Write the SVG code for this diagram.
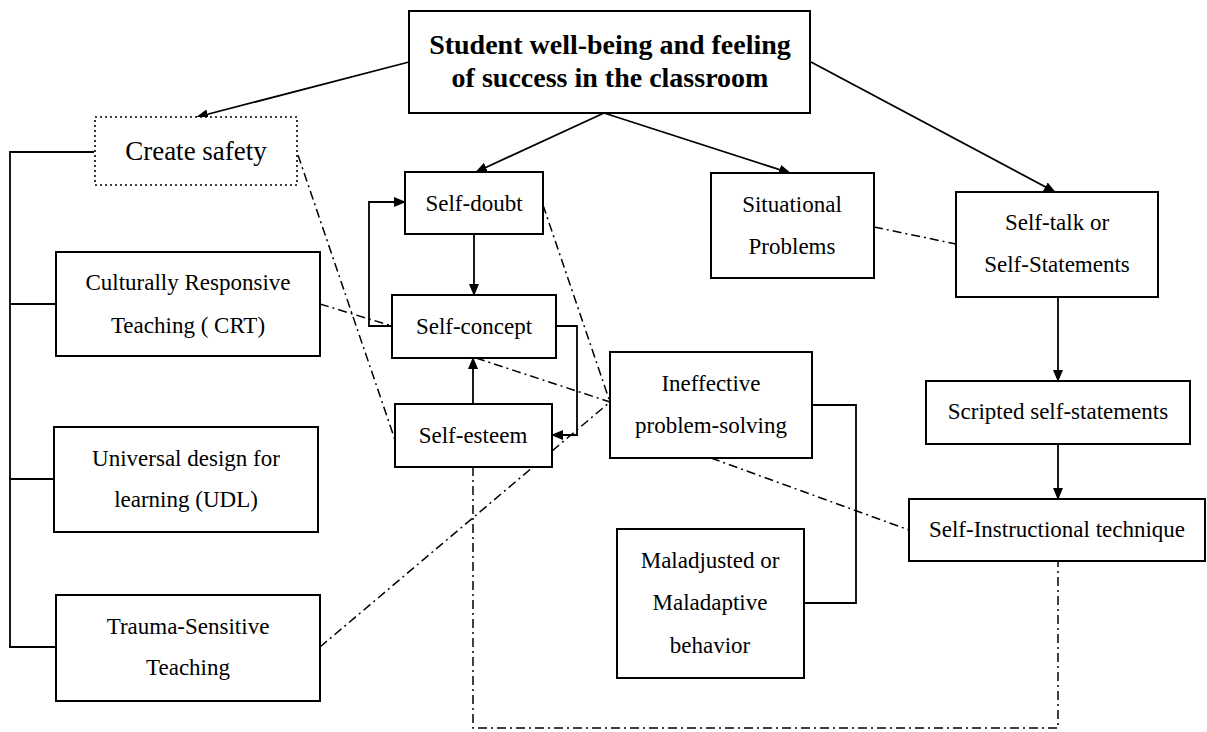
<svg xmlns="http://www.w3.org/2000/svg" width="1207" height="732" viewBox="0 0 1207 732">
<style>
.box{fill:#fff;stroke:#000;stroke-width:2}
.dot{fill:#fff;stroke:#000;stroke-width:1.6;stroke-dasharray:2 3}
.t{font-family:"Liberation Serif","Times New Roman",serif;font-size:23px;fill:#000;text-anchor:middle}
.tb{font-family:"Liberation Serif","Times New Roman",serif;font-size:28px;font-weight:bold;fill:#000;text-anchor:middle}
.ln{fill:none;stroke:#000;stroke-width:1.8}
.ar{fill:none;stroke:#000;stroke-width:1.8;marker-end:url(#ah)}
.dd{fill:none;stroke:#000;stroke-width:1.5;stroke-dasharray:9 4 2 4}
</style>
<defs>
<marker id="ah" markerUnits="userSpaceOnUse" markerWidth="12" markerHeight="10" refX="11" refY="5" orient="auto">
<path d="M0,0 L12,5 L0,10 z" fill="#000"/>
</marker>
</defs>
<rect width="1207" height="732" fill="#fff"/>
<g id="connectors">
<line class="ar" x1="409" y1="62" x2="197" y2="117"/>
<line class="ar" x1="604" y1="113" x2="476" y2="172"/>
<line class="ar" x1="604" y1="113" x2="790" y2="173"/>
<line class="ar" x1="811" y1="62" x2="1055" y2="192"/>
<line class="ar" x1="1058" y1="297" x2="1058" y2="381"/>
<line class="ar" x1="1058" y1="444" x2="1058" y2="499"/>
<line class="ar" x1="474" y1="234" x2="474" y2="295"/>
<line class="ar" x1="473" y1="404" x2="473" y2="358"/>
<polyline class="ar" points="392,326 369,326 369,202 405,202"/>
<polyline class="ar" points="556,326 577,326 577,435 552,435"/>
<polyline class="ln" points="94,152 10,152 10,647 56,647"/>
<line class="ln" x1="10" y1="304" x2="56" y2="304"/>
<line class="ln" x1="10" y1="479" x2="54" y2="479"/>
<polyline class="ln" points="812,405 856,405 856,603 804,603"/>
<line class="dd" x1="298" y1="155" x2="395" y2="440"/>
<line class="dd" x1="320" y1="304" x2="392" y2="326"/>
<line class="dd" x1="543" y1="205" x2="610" y2="402"/>
<line class="dd" x1="476" y1="358" x2="610" y2="402"/>
<line class="dd" x1="320" y1="647" x2="610" y2="402"/>
<line class="dd" x1="874" y1="227" x2="956" y2="244"/>
<line class="dd" x1="711" y1="458" x2="909" y2="530"/>
<polyline class="dd" points="473,467 473,728 1058,728 1058,561"/>
</g>
<g id="main"><rect class="box" x="409" y="11" width="401" height="102"/>
<text class="tb" x="610" y="54">Student well-being and feeling</text>
<text class="tb" x="610" y="87">of success in the classroom</text></g>
<g id="create-safety"><rect class="dot" x="95" y="117" width="202" height="68"/>
<text class="t" x="196" y="160" style="font-size:27px">Create safety</text></g>
<g id="crt"><rect class="box" x="56" y="252" width="264" height="104"/>
<text class="t" x="188" y="290">Culturally Responsive</text>
<text class="t" x="188" y="333">Teaching ( CRT)</text></g>
<g id="udl"><rect class="box" x="54" y="427" width="264" height="105"/>
<text class="t" x="186" y="466">Universal design for</text>
<text class="t" x="186" y="507">learning (UDL)</text></g>
<g id="trauma"><rect class="box" x="56" y="595" width="264" height="106"/>
<text class="t" x="188" y="634">Trauma-Sensitive</text>
<text class="t" x="188" y="675">Teaching</text></g>
<g id="self-doubt"><rect class="box" x="405" y="172" width="138" height="62"/>
<text class="t" x="474" y="211">Self-doubt</text></g>
<g id="self-concept"><rect class="box" x="392" y="295" width="164" height="63"/>
<text class="t" x="474" y="334">Self-concept</text></g>
<g id="self-esteem"><rect class="box" x="395" y="404" width="157" height="63"/>
<text class="t" x="473" y="443">Self-esteem</text></g>
<g id="situational"><rect class="box" x="711" y="173" width="163" height="105"/>
<text class="t" x="792" y="212">Situational</text>
<text class="t" x="792" y="254">Problems</text></g>
<g id="self-talk"><rect class="box" x="956" y="192" width="202" height="105"/>
<text class="t" x="1057" y="230">Self-talk or</text>
<text class="t" x="1057" y="272">Self-Statements</text></g>
<g id="ineffective"><rect class="box" x="610" y="352" width="202" height="106"/>
<text class="t" x="711" y="391">Ineffective</text>
<text class="t" x="711" y="433">problem-solving</text></g>
<g id="maladjusted"><rect class="box" x="617" y="529" width="187" height="149"/>
<text class="t" x="710" y="568">Maladjusted or</text>
<text class="t" x="710" y="610">Maladaptive</text>
<text class="t" x="710" y="653">behavior</text></g>
<g id="scripted"><rect class="box" x="926" y="381" width="264" height="63"/>
<text class="t" x="1058" y="419">Scripted self-statements</text></g>
<g id="self-instructional"><rect class="box" x="909" y="499" width="296" height="62"/>
<text class="t" x="1057" y="537">Self-Instructional technique</text></g>
</svg>
